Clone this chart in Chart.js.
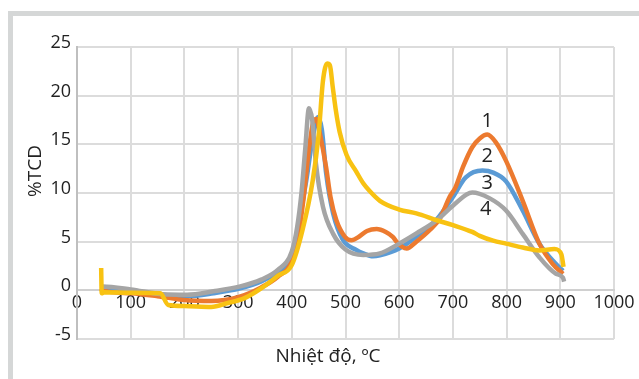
<!DOCTYPE html>
<html>
<head>
<meta charset="utf-8">
<script src="https://cdn.jsdelivr.net/npm/chart.js@4.4.1/dist/chart.umd.min.js"></script>
<style>
    body { margin: 0; background: #fff; }
    .wrap { position: relative; width: 639px; height: 379px; overflow: hidden; }
    .frame {
        position: absolute; left: 8px; top: 11px; width: 800px; height: 600px;
        border-left: 5px solid #d5d7d7; border-top: 5px solid #d5d7d7;
    }
    canvas { position: absolute; left: 0; top: 0; }
</style>
</head>
<body>
<div class="wrap">
    <div class="frame"></div>
    <canvas id="tcdChart" width="639" height="379"></canvas>
</div>
<script>
// Temperature (x) and %TCD (y), one pair of arrays per curve
const tempOrange = [44, 48, 100, 150, 200, 250, 300, 343, 374, 400, 412, 422, 432, 440, 446, 452, 464, 472, 483, 499, 511, 525, 540, 558, 575, 588, 595, 605, 614, 632, 657, 676, 694, 705, 719, 736, 750, 764, 780, 799, 830, 861, 886, 905];
const tcdOrange = [0.2, 0, -0.3, -0.6, -1.0, -1.1, -0.7, 0.3, 1.4, 3.0, 5.5, 9.5, 14.5, 17.3, 17.6, 16.2, 12.6, 9.6, 7.2, 5.5, 5.15, 5.5, 6.1, 6.3, 6.0, 5.5, 5.0, 4.5, 4.3, 5.0, 6.2, 7.4, 9.6, 10.6, 12.7, 14.7, 15.6, 16.0, 15.2, 13.3, 9.2, 4.8, 2.7, 1.7];

const tempBlue = [44, 48, 100, 160, 205, 254, 304, 343, 374, 400, 414, 427, 440, 449, 456, 464, 477, 495, 520, 533, 551, 564, 600, 632, 670, 700, 724, 755, 775, 799, 830, 861, 892, 905];
const tcdBlue = [0.3, 0.3, 0.0, -0.5, -0.6, -0.3, 0.2, 0.9, 1.9, 3.3, 7.2, 11.3, 16.0, 17.8, 16.5, 12.0, 7.9, 5.2, 4.15, 3.8, 3.5, 3.6, 4.3, 5.5, 7.3, 9.6, 11.6, 12.3, 12.1, 11.2, 8.2, 4.8, 2.7, 2.0];

const tempGrey = [44, 48, 100, 160, 205, 254, 304, 343, 374, 400, 410, 418, 425, 432, 438, 445, 458, 477, 500, 533, 564, 600, 632, 670, 700, 736, 767, 799, 830, 861, 892, 905, 907];
const tcdGrey = [0.3, 0.4, 0.1, -0.4, -0.45, -0.1, 0.4, 1.1, 2.1, 4.0, 6.5, 10.0, 14.5, 18.7, 17.5, 13.0, 8.6, 5.8, 4.2, 3.64, 3.8, 4.8, 5.85, 7.2, 8.7, 10.05, 9.5, 8.2, 5.8, 3.4, 1.7, 1.3, 0.9];

const tempYellow = [45, 46, 50, 100, 155, 170, 200, 250, 281, 312, 343, 374, 400, 420, 439, 450, 458, 466, 471, 476, 482, 489, 502, 520, 533, 545, 564, 600, 632, 670, 700, 736, 750, 775, 799, 830, 861, 889, 902, 906];
const tcdYellow = [2.3, -0.3, -0.2, -0.25, -0.3, -1.5, -1.6, -1.7, -1.3, -0.8, 0.2, 1.5, 2.6, 6.2, 11.3, 16.0, 21.5, 23.3, 23.1, 21.0, 18.5, 16.3, 13.9, 12.2, 11.0, 10.2, 9.2, 8.3, 7.9, 7.2, 6.7, 6.0, 5.6, 5.1, 4.8, 4.4, 4.1, 4.25, 3.7, 2.4];

// Curve numbers written beside the second peak
const curveLabels = ['1', '2', '3', '4'];
const curveLabelX = [764, 764, 764, 761];
const curveLabelY = [17.4, 13.8, 11.0, 8.3];

const yTicks = [-5, 0, 5, 10, 15, 20, 25];

function toPoints(xs, ys) {
    return xs.map((x, i) => ({ x: x, y: ys[i] }));
}

const FONT = '"Open Sans", "Noto Sans", sans-serif';

const textPlugin = {
    id: 'textPlugin',
    afterDraw(chart) {
        const ctx = chart.ctx;
        const xs = chart.scales.x;
        const ys = chart.scales.y;
        ctx.save();
        ctx.fillStyle = '#222';
        ctx.textAlign = 'center';
        ctx.textBaseline = 'middle';

        // curve numbers
        ctx.font = '20px ' + FONT;
        curveLabels.forEach((t, i) => {
            ctx.fillText(t, xs.getPixelForValue(curveLabelX[i]), ys.getPixelForValue(curveLabelY[i]));
        });

        // x axis title
        ctx.font = '19px ' + FONT;
        ctx.fillText('Nhiệt độ, ºC', 328, 357);

        // y axis title
        ctx.translate(36, 171);
        ctx.rotate(-Math.PI / 2);
        ctx.fillText('%TCD', 0, 0);
        ctx.restore();
    }
};

const gridColor = '#dcdcdc';

new Chart(document.getElementById('tcdChart'), {
    type: 'scatter',
    data: {
        datasets: [
            { label: '1', data: toPoints(tempOrange, tcdOrange), borderColor: '#ec7a2f', order: 2 },
            { label: '2', data: toPoints(tempBlue, tcdBlue), borderColor: '#5b9bd5', order: 3 },
            { label: '3', data: toPoints(tempGrey, tcdGrey), borderColor: '#a5a5a5', order: 1 },
            { label: '4', data: toPoints(tempYellow, tcdYellow), borderColor: '#f8c212', order: 0 }
        ].map(ds => Object.assign(ds, {
            showLine: true,
            borderWidth: 4.5,
            pointRadius: 0,
            cubicInterpolationMode: 'monotone',
            fill: false
        }))
    },
    options: {
        responsive: false,
        animation: false,
        devicePixelRatio: 1,
        layout: {
            padding: { left: 0, top: 47, right: 25, bottom: 40 }
        },
        plugins: {
            legend: { display: false },
            tooltip: { enabled: false }
        },
        scales: {
            x: {
                type: 'linear',
                min: 0,
                max: 1000,
                position: { y: 0 },
                grid: { color: gridColor, lineWidth: 2, drawTicks: false },
                border: { color: '#d0d0d0', width: 2 },
                ticks: {
                    stepSize: 100,
                    padding: 2,
                    color: '#222',
                    font: { size: 18, family: FONT },
                    callback: (v) => String(v)
                }
            },
            y: {
                min: -5,
                max: 25,
                afterFit: (scale) => { scale.width = 77; },
                afterBuildTicks: (scale) => { scale.ticks = yTicks.map(v => ({ value: v })); },
                grid: { color: gridColor, lineWidth: 2, drawTicks: false },
                border: { color: '#bfbfbf', width: 2 },
                ticks: {
                    padding: 6,
                    labelOffset: -4,
                    color: '#222',
                    font: { size: 18, family: FONT }
                }
            }
        }
    },
    plugins: [textPlugin]
});
</script>
</body>
</html>
